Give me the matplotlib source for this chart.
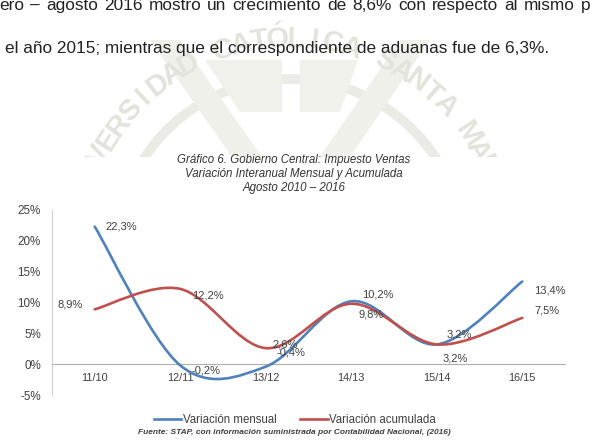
import numpy as np
import matplotlib
matplotlib.use('Agg')
import matplotlib.pyplot as plt
from matplotlib.path import Path
from matplotlib.patches import PathPatch, Circle, Polygon
from matplotlib.lines import Line2D

plt.rcParams['font.family'] = ['Liberation Sans', 'DejaVu Sans']

# datos del gráfico
periodos = ['11/10', '12/11', '13/12', '14/13', '15/14', '16/15']
var_mensual = [22.3, -0.2, -0.4, 10.2, 3.2, 13.4]
var_acumulada = [8.9, 12.2, 2.6, 9.8, 3.2, 7.5]
etiq_mensual = ['22,3%', '-0,2%', '-0,4%', '10,2%', '3,2%', '13,4%']
etiq_acumulada = ['8,9%', '12,2%', '2,6%', '9,8%', '3,2%', '7,5%']
y_ticks = [-5, 0, 5, 10, 15, 20, 25]

texto_l1 = 'ero – agosto 2016 mostró un crecimiento de 8,6% con respecto al mismo p'
texto_l2 = 'el año 2015; mientras que el correspondiente de aduanas fue de 6,3%.'
titulo = ('Gráfico 6. Gobierno Central: Impuesto Ventas\n'
          'Variación Interanual Mensual y Acumulada\n'
          'Agosto 2010 – 2016')
fuente = 'Fuente: STAP, con información suministrada por Contabilidad Nacional, (2016)'
sello = 'UNIVERSIDAD CATÓLICA SANTA MARÍA'

AZUL = '#4f81bd'
ROJO = '#c0504d'
GRIS = '#404040'

W, H = 590, 446


def curva_suave(xs, ys):
    # linea suavizada tipo Excel (bezier con tension 1/6)
    pts = np.column_stack([xs, ys]).astype(float)
    n = len(pts)
    verts = [pts[0]]
    codes = [Path.MOVETO]
    for i in range(n - 1):
        p_ant = pts[max(i - 1, 0)]
        p_sig = pts[min(i + 2, n - 1)]
        c1 = pts[i] + (pts[i + 1] - p_ant) / 6
        c2 = pts[i + 1] - (p_sig - pts[i]) / 6
        verts += [c1, c2, pts[i + 1]]
        codes += [Path.CURVE4] * 3
    return Path(verts, codes)


fig = plt.figure(figsize=(W / 100, H / 100), dpi=100)
fig.patch.set_facecolor('white')
renderer = fig.canvas.get_renderer()

# marca de agua (sello), recortada donde empieza la imagen del grafico
wm = fig.add_axes([0, 1 - 157 / H, 1, 157 / H])
wm.set_xlim(0, W)
wm.set_ylim(157, 0)
wm.axis('off')
cx, cy, r = 290, 253, 214
wm.add_patch(Circle((cx, cy), 174, fill=False, lw=7, color='#ebebe5'))
wm.add_patch(Polygon([(150, 40), (180, 40), (262, 157), (232, 157)], color='#f0f0eb', lw=0))
wm.add_patch(Polygon([(430, 40), (400, 40), (320, 157), (350, 157)], color='#f0f0eb', lw=0))
wm.add_patch(Polygon([(205, 60), (282, 60), (282, 112), (240, 112)], color='#f1f1ec', lw=0))
wm.add_patch(Polygon([(300, 60), (358, 60), (340, 112), (300, 112)], color='#f1f1ec', lw=0))
for k, letra in enumerate(sello):
    ang = 167.9 - 4.97 * k
    t = np.radians(ang)
    wm.text(cx + r * np.cos(t), cy - r * np.sin(t), letra, rotation=ang - 90,
            rotation_mode='anchor', ha='center', va='center', fontsize=21,
            fontweight='bold', color='#e3e3dc', clip_on=True)

# texto del documento: primera linea justificada hasta el borde
palabras = texto_l1.split(' ')
objs = [fig.text(0, 1 - 10 / H, p, fontsize=12.4, color='#222222', va='baseline')
        for p in palabras]
anchos = [o.get_window_extent(renderer).width for o in objs]
x0, x_ult = -1.0, 581.0
hueco = (x_ult - x0 - sum(anchos[:-1])) / (len(palabras) - 1)
pos = x0
for o, a in zip(objs, anchos):
    o.set_x(pos / W)
    pos += a + hueco
fig.text(5 / W, 1 - 53 / H, texto_l2, fontsize=12.4, color='#222222', va='baseline')

# titulo del grafico
fig.text(293.5 / W, 1 - 174 / H, titulo, ha='center', va='center', fontsize=8.3,
         style='italic', color='#333333', linespacing=1.2)

ax = fig.add_axes([52 / W, 1 - 395 / H, 513 / W, 185 / H])
ax.patch.set_alpha(0)
x = np.arange(len(periodos))

ax.add_patch(PathPatch(curva_suave(x, var_mensual), fill=False, edgecolor=AZUL,
                       lw=1.9, capstyle='round', zorder=3))
ax.add_patch(PathPatch(curva_suave(x, var_acumulada), fill=False, edgecolor=ROJO,
                       lw=1.9, capstyle='round', zorder=3))

ax.set_xlim(-0.5, len(periodos) - 0.5)
ax.set_ylim(-5, 25)
ax.set_yticks(y_ticks)
ax.set_yticklabels([f'{v}%' for v in y_ticks])
ax.set_xticks(x)
ax.set_xticklabels(periodos, fontweight='bold')
ax.tick_params(axis='both', length=0, colors=GRIS)
ax.tick_params(axis='y', pad=8, labelsize=8.4)
ax.tick_params(axis='x', pad=6.5, labelsize=7.8)

for s in ['top', 'right']:
    ax.spines[s].set_visible(False)
ax.spines['left'].set_color('#d0d0d0')
ax.spines['bottom'].set_color('#b0b0b0')
ax.spines['bottom'].set_position(('data', 0))

# etiquetas de datos (desplazamiento en pixeles)
desp_mensual = [(11, 0, 'left'), (11, -5, 'left'), (11, 14, 'left'),
                (11, 7, 'left'), (10, 10, 'left'), (12, -9, 'left')]
desp_acumulada = [(-12, 4.5, 'right'), (12, -6.7, 'left'), (7, 4, 'left'),
                  (7, -11, 'left'), (6, -14, 'left'), (12, 7, 'left')]
for i in range(len(periodos)):
    dx, dy, ha = desp_mensual[i]
    ax.annotate(etiq_mensual[i], (x[i], var_mensual[i]), xytext=(dx, dy),
                textcoords='offset pixels', ha=ha, va='center', fontsize=8, color=GRIS, zorder=4)
    dx, dy, ha = desp_acumulada[i]
    ax.annotate(etiq_acumulada[i], (x[i], var_acumulada[i]), xytext=(dx, dy),
                textcoords='offset pixels', ha=ha, va='center', fontsize=8, color=GRIS, zorder=4)

manijas = [Line2D([], [], color=AZUL, lw=1.9, label='Variación mensual'),
           Line2D([], [], color=ROJO, lw=1.9, label='Variación acumulada')]
leg = ax.legend(handles=manijas, loc='center', bbox_to_anchor=(295 / W, 26 / H),
                bbox_transform=fig.transFigure, ncol=2, frameon=False, fontsize=8.3,
                handlelength=2.4, handletextpad=0.15, columnspacing=2.0)
for t in leg.get_texts():
    t.set_color(GRIS)

fig.text(294.5 / W, 13 / H, fuente, ha='center', va='center', fontsize=6.0,
         style='italic', fontweight='bold', color=GRIS)

fig.savefig('out.png', dpi=100)
